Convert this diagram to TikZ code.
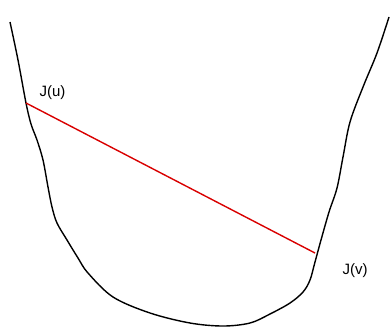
\documentclass[tikz,border=0pt]{standalone}
\usepackage{fontspec}
\setmainfont{Liberation Sans}
\begin{document}
\begin{tikzpicture}[x=1pt,y=-1pt,
  curve/.style={black,line width=1.4pt},
  chord/.style={red!85!black,line width=1.4pt},
  lbl/.style={font=\fontsize{15}{17}\selectfont,inner sep=0pt}]

% Frame
\useasboundingbox (0,0) rectangle (390,327);

% Convex curve
\draw[curve] plot[smooth,tension=0.55] coordinates {
  (10,22) (18,60) (26,103) (31,124) (37,140) (43,160) (48,187)
  (52,207) (57,223) (67,240) (78,258) (88,273) (113,297)
  (150,313) (190,323) (223,326) (250,323) (270,314) (290,303)
  (303,292) (310,280) (315,262) (321,240) (329,212)
  (337,188) (343,157) (350,122) (363,87) (377,53) (389,17)};

% End points of the chord
\coordinate (u) at (26,103);
\coordinate (v) at (315,253);

% Labels
\node[lbl] (Ju) at (52.5,93) {J(u)};
\node[lbl] (Jv) at (355,271) {J(v)};

% Chord
\draw[chord] (u) -- (v);

\end{tikzpicture}
\end{document}
